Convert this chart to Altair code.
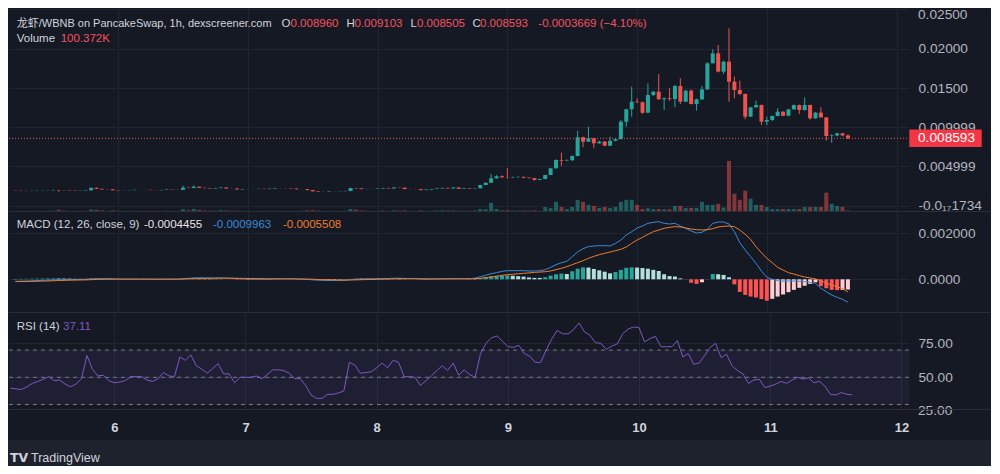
import altair as alt
import pandas as pd

# ------------------------------------------------------------------ texts
pair_title = "龙虾/WBNB on PancakeSwap, 1h, dexscreener.com"
ohlc_letters = ["O", "H", "L", "C"]
ohlc_values = ["0.008960", "0.009103", "0.008505", "0.008593"]
change_label = "-0.0003669 (−4.10%)"
volume_title = "Volume"
volume_label = "100.372K"
macd_title = "MACD (12, 26, close, 9)"
macd_values = ["-0.0004455", "-0.0009963", "-0.0005508"]
rsi_title = "RSI (14)"
rsi_value = "37.11"
last_price = 0.008593
last_price_label = "0.008593"
brand = "TradingView"

# ------------------------------------------------------------------ data (hourly candles)
start_time = "2024-01-05 05:00"
first_open_e4 = 19.2   # prices in units of 1e-4 WBNB

close_e4 = [
    19.0, 18.8, 18.7, 18.9, 19.2, 19.4, 19.6, 19.9, 19.5, 19.6,
    19.2, 18.9, 19.1, 19.6, 22.8, 21.5, 20.8, 20.9, 19.8, 19.5,
    19.6, 19.8, 20.2, 20.2, 20.2, 19.9, 19.8, 20.1, 20.6, 20.3,
    20.2, 23.0, 22.6, 24.2, 22.8, 22.4, 21.9, 22.5, 23.2, 21.9,
    21.9, 20.8, 21.3, 21.3, 21.3, 21.5, 21.2, 21.7, 22.3, 22.3,
    22.2, 21.8, 21.0, 21.0, 19.9, 18.4, 17.8, 17.8, 18.3, 18.3,
    18.5, 18.8, 22.5, 22.1, 21.2, 21.3, 21.4, 21.9, 22.6, 22.0,
    23.2, 22.9, 21.2, 21.2, 21.1, 19.9, 20.6, 21.3, 22.0, 22.7,
    22.0, 23.2, 21.6, 22.4, 21.8, 22.2, 26.4, 29.3, 34.9, 37.5,
    36.2, 36.0, 36.5, 36.8, 35.8, 35.2, 33.0, 34.0, 39.2, 47.7,
    58.3, 57.4, 58.0, 63.4, 87.2, 81.6, 86.0, 79.6, 81.8, 76.5,
    82.9, 85.0, 107.1, 123.0, 132.7, 131.9, 118.6, 141.2, 145.4, 135.7,
    137.0, 136.0, 152.7, 132.7, 146.7, 129.7, 135.7, 148.4, 181.6, 194.3,
    171.0, 183.7, 158.2, 147.6, 142.5, 113.6, 125.5, 128.4, 107.2, 109.3,
    114.4, 119.9, 114.8, 122.9, 128.4, 122.1, 128.4, 111.4, 118.7, 112.7,
    88.9, 89.5, 92.3, 89.6, 85.93,
]
high_e4 = [
    19.4, 19.1, 18.9, 19.0, 19.3, 19.5, 19.7, 20.6, 20.0, 19.8,
    19.7, 19.3, 19.2, 19.8, 23.2, 23.0, 21.7, 21.1, 21.0, 19.9,
    19.8, 19.9, 20.3, 20.4, 20.3, 20.3, 20.0, 20.2, 20.8, 20.7,
    20.4, 25.5, 23.2, 25.8, 24.4, 23.0, 22.6, 22.7, 23.5, 23.3,
    22.1, 22.0, 21.4, 21.5, 21.4, 21.6, 21.6, 21.8, 22.4, 22.5,
    22.4, 22.3, 21.9, 21.2, 21.1, 20.0, 18.5, 18.0, 18.4, 18.5,
    18.6, 18.9, 22.9, 22.8, 22.2, 21.5, 21.5, 22.0, 22.8, 22.7,
    23.4, 23.3, 23.0, 21.4, 21.3, 21.2, 20.7, 21.4, 22.1, 22.9,
    22.8, 23.4, 23.3, 22.6, 22.5, 22.4, 26.6, 29.5, 40.4, 39.0,
    38.5, 47.7, 37.0, 37.5, 37.0, 36.0, 35.5, 34.5, 39.5, 48.0,
    59.2, 67.6, 59.0, 64.0, 95.3, 88.0, 100.8, 86.5, 83.0, 82.0,
    88.0, 85.5, 109.3, 123.5, 151.8, 137.0, 133.0, 156.1, 146.0, 168.0,
    138.3, 149.7, 154.0, 162.5, 148.0, 148.4, 136.5, 152.7, 183.0, 199.5,
    205.0, 185.0, 226.3, 164.6, 159.5, 143.0, 126.0, 134.0, 129.0, 113.6,
    115.0, 124.2, 120.5, 123.5, 129.0, 129.0, 138.2, 129.0, 119.5, 125.5,
    113.0, 91.0, 93.0, 93.0, 91.03,
]
low_e4 = [
    18.9, 18.6, 18.5, 18.6, 18.8, 19.1, 19.3, 19.5, 17.9, 19.3,
    19.1, 18.8, 18.8, 19.0, 19.5, 21.3, 20.6, 20.6, 19.6, 19.3,
    19.4, 19.5, 19.7, 20.0, 20.0, 19.8, 19.6, 19.7, 20.0, 20.2,
    20.0, 20.1, 22.3, 22.5, 22.5, 22.1, 21.7, 21.8, 22.4, 21.7,
    21.6, 20.6, 20.7, 21.1, 21.1, 21.2, 21.0, 21.1, 21.6, 22.1,
    22.0, 21.7, 20.8, 20.8, 19.7, 18.2, 17.6, 17.5, 17.7, 18.1,
    18.2, 18.4, 18.7, 21.9, 21.0, 21.0, 21.2, 21.3, 21.8, 21.9,
    21.9, 22.7, 21.0, 21.0, 20.9, 19.7, 19.8, 20.5, 21.2, 21.9,
    21.8, 21.9, 21.4, 21.5, 21.6, 21.7, 22.0, 26.2, 29.0, 34.6,
    35.5, 34.5, 35.5, 36.0, 35.0, 34.5, 31.9, 32.5, 33.8, 39.0,
    47.5, 50.6, 57.0, 57.0, 63.0, 74.5, 81.5, 73.2, 79.0, 76.0,
    76.0, 82.0, 84.5, 100.8, 113.5, 131.0, 117.0, 118.0, 140.0, 135.0,
    122.1, 134.0, 125.5, 129.7, 132.0, 129.0, 121.2, 134.8, 147.6, 181.6,
    170.0, 168.0, 132.7, 137.0, 141.0, 110.2, 113.0, 125.0, 102.9, 102.9,
    108.0, 114.0, 114.0, 114.0, 122.1, 117.0, 121.2, 110.0, 111.0, 112.0,
    82.9, 80.4, 88.5, 88.5, 85.05,
]
volume_k = [
    70, 60, 50, 60, 70, 60, 80, 90, 150, 90,
    60, 50, 60, 80, 160, 140, 100, 70, 110, 80,
    60, 60, 70, 60, 50, 60, 60, 60, 80, 60,
    60, 180, 110, 200, 140, 100, 90, 80, 120, 100,
    80, 90, 70, 60, 50, 60, 60, 70, 80, 60,
    60, 60, 70, 80, 110, 120, 90, 60, 70, 60,
    60, 80, 200, 150, 100, 80, 60, 70, 100, 70,
    110, 90, 110, 70, 60, 100, 70, 80, 100, 110,
    90, 110, 90, 80, 80, 100, 200, 180, 600, 200,
    110, 120, 90, 90, 100, 90, 110, 80, 330, 250,
    670, 330, 200, 330, 800, 670, 470, 400, 270, 330,
    270, 330, 670, 800, 800, 470, 200, 250, 200, 200,
    180, 180, 400, 400, 270, 270, 270, 670, 470, 470,
    540, 300, 3350, 1200, 800, 1400, 870, 470, 470, 330,
    200, 200, 200, 200, 200, 200, 330, 330, 330, 330,
    1270, 540, 400, 330, 100.372,
]
macd_e4 = [
    -0.9, -0.8, -0.75, -0.65, -0.55, -0.45, -0.35, -0.25, -0.2, -0.15,
    -0.12, -0.12, -0.1, -0.05, 0.2, 0.3, 0.3, 0.28, 0.2, 0.12,
    0.08, 0.06, 0.08, 0.08, 0.08, 0.05, 0.03, 0.04, 0.08, 0.08,
    0.06, 0.3, 0.42, 0.62, 0.65, 0.62, 0.55, 0.55, 0.6, 0.5,
    0.42, 0.28, 0.22, 0.18, 0.14, 0.12, 0.08, 0.1, 0.15, 0.18,
    0.2, 0.18, 0.1, 0.04, -0.06, -0.25, -0.4, -0.5, -0.52, -0.52,
    -0.5, -0.45, -0.15, 0.05, 0.12, 0.18, 0.22, 0.28, 0.35, 0.36,
    0.45, 0.48, 0.38, 0.3, 0.22, 0.1, 0.08, 0.1, 0.15, 0.22,
    0.22, 0.3, 0.22, 0.2, 0.2, 0.5, 1.14, 1.72, 2.45, 2.88,
    3.46, 3.75, 3.75, 3.75, 3.75, 3.61, 3.61, 3.75, 4.19, 5.2,
    6.36, 7.23, 7.81, 9.84, 11.87, 13.32, 14.19, 14.48, 14.62, 14.62,
    14.48, 15.64, 17.09, 19.26, 20.71, 22.3, 23.17, 24.33, 24.77, 25.06,
    24.33, 24.04, 24.33, 23.17, 22.16, 21.0, 20.13, 20.42, 21.72, 24.33,
    24.91, 24.91, 24.04, 20.71, 15.93, 12.74, 9.84, 6.94, 3.61, 0.86,
    -0.01, -0.59, -0.74, -0.74, -0.74, -0.88, -1.03, -1.32, -1.75, -3.93,
    -5.38, -6.83, -7.84, -8.71, -9.963,
]
signal_e4 = [
    -1.0, -0.98, -0.95, -0.9, -0.85, -0.78, -0.7, -0.62, -0.54, -0.46,
    -0.4, -0.34, -0.3, -0.25, -0.16, -0.07, 0.0, 0.05, 0.08, 0.09,
    0.09, 0.08, 0.08, 0.08, 0.08, 0.07, 0.06, 0.06, 0.06, 0.07,
    0.07, 0.12, 0.18, 0.27, 0.35, 0.4, 0.43, 0.46, 0.49, 0.49,
    0.48, 0.44, 0.4, 0.36, 0.31, 0.27, 0.23, 0.2, 0.19, 0.19,
    0.19, 0.19, 0.17, 0.14, 0.1, 0.03, -0.06, -0.15, -0.22, -0.28,
    -0.32, -0.35, -0.31, -0.24, -0.17, -0.1, -0.04, 0.02, 0.09, 0.14,
    0.2, 0.25, 0.27, 0.28, 0.27, 0.24, 0.21, 0.19, 0.18, 0.19,
    0.19, 0.21, 0.21, 0.21, 0.21, 0.27, 0.45, 0.7, 1.0, 1.35,
    1.7, 2.0, 2.2, 2.4, 2.6, 2.8, 3.0, 3.15, 3.3, 3.61,
    4.19, 4.77, 5.49, 6.36, 7.23, 8.1, 9.12, 9.98, 10.71, 11.29,
    11.87, 12.45, 13.03, 14.04, 15.64, 17.09, 18.25, 19.55, 20.71, 21.43,
    22.16, 22.59, 22.88, 22.74, 22.3, 21.87, 21.58, 21.43, 21.58, 22.01,
    22.74, 23.03, 23.17, 22.88, 21.43, 19.55, 17.38, 14.19, 11.58, 9.12,
    7.23, 5.2, 4.04, 2.88, 2.3, 1.58, 1.0, 0.57, 0.13, -0.59,
    -1.75, -2.48, -3.2, -4.07, -5.508,
]
hist_e4 = [
    0.1, 0.18, 0.2, 0.25, 0.3, 0.33, 0.35, 0.37, 0.34, 0.31,
    0.28, 0.22, 0.2, 0.2, 0.36, 0.37, 0.3, 0.23, 0.12, 0.03,
    -0.01, -0.02, 0.0, 0.0, 0.0, -0.02, -0.03, -0.02, 0.02, 0.01,
    -0.01, 0.18, 0.24, 0.35, 0.3, 0.22, 0.12, 0.09, 0.11, 0.01,
    -0.06, -0.16, -0.18, -0.18, -0.17, -0.15, -0.15, -0.1, -0.04, -0.01,
    0.01, -0.01, -0.07, -0.1, -0.16, -0.28, -0.34, -0.35, -0.3, -0.24,
    -0.18, -0.1, 0.16, 0.29, 0.29, 0.28, 0.26, 0.26, 0.26, 0.22,
    0.25, 0.23, 0.11, 0.02, -0.05, -0.14, -0.13, -0.09, -0.03, 0.03,
    0.03, 0.09, 0.01, -0.01, 0.3, 0.3, 0.6, 0.9, 1.3, 1.45,
    1.6, 1.7, 1.55, 1.35, 1.15, 0.8, 0.6, 0.6, 0.9, 1.6,
    2.2, 2.5, 2.3, 3.5, 4.6, 5.2, 5.1, 4.5, 3.9, 3.3,
    2.6, 3.2, 4.1, 5.0, 5.2, 5.1, 4.9, 4.6, 4.1, 3.6,
    2.2, 1.4, 1.2, 0.4, -0.1, -1.5, -2.0, -1.3, 0.1, 2.3,
    2.2, 1.9, 0.9, -2.2, -5.5, -6.8, -7.5, -7.9, -8.6, -9.3,
    -8.5, -7.5, -6.6, -5.6, -4.6, -3.7, -2.8, -2.0, -1.3, -3.0,
    -3.9, -4.6, -4.7, -4.6, -4.455,
]
rsi = [
    42, 41.5, 41, 43, 45.5, 47, 48.5, 50.5, 47.5, 48,
    45, 43, 45, 49, 66, 56, 51, 51.5, 47.5, 46,
    46.5, 47.5, 50.5, 50.5, 50.5, 48, 47, 49, 53.5, 51,
    50.5, 65, 62.5, 66.5, 58.5, 56, 53, 56.5, 60, 52.5,
    52.5, 46, 50, 50, 50, 51, 49, 52, 55.5, 55.5,
    55, 53, 49, 49, 44, 37, 34.5, 34.5, 37.5, 37.5,
    38.5, 40, 61, 59, 53, 53.5, 54, 57, 60.5, 57,
    62.5, 61, 50.5, 50.5, 50, 44, 47.5, 51, 55, 58.5,
    55, 60.5, 51.5, 55.5, 52, 50, 67.5, 75, 79, 80.5,
    76.5, 72.5, 72, 73.5, 67.5, 65.5, 61, 61, 70, 78,
    84.5, 82, 82, 85, 90, 83.5, 81, 75.5, 75, 70.5,
    73, 74.5, 82, 85.5, 87, 86.5, 76, 78.5, 80, 72.5,
    72.5, 72.5, 77, 65, 67.5, 59.5, 60.5, 66, 72, 75,
    64.5, 67, 58.5, 55, 52.5, 45.5, 48, 48.5, 42.5, 43.5,
    45, 47, 45.5, 48, 50, 48.75, 49.5, 46, 47, 43.5,
    37.5, 37, 38.75, 37.5, 37.11,
]

day_ticks = [6, 7, 8, 9, 10, 11, 12]
price_ticks = [0.02, 0.015, 0.01, 0.005, 0.0]
price_tick_labels = ["0.02000", "0.01500", "0.009999", "0.004999", "-0.0₁₇1734"]
price_top_tick = 0.025
price_top_label = "0.02500"
macd_ticks = [0.002, 0.0]
macd_tick_labels = ["0.002000", "0.0000"]
rsi_ticks = [75, 50]
rsi_bottom_tick = 25
rsi_bottom_label = "25.00"
rsi_levels = [70, 50, 30]

n = len(close_e4)
for arr in (high_e4, low_e4, volume_k, macd_e4, signal_e4, hist_e4, rsi):
    assert len(arr) == n, len(arr)

# ------------------------------------------------------------------ styles
FONT = "Liberation Sans, Noto Sans CJK SC, DejaVu Sans, sans-serif"
BG = "#151924"
FRAME = "#1e222d"
GRID = "#212532"
SEP = "#2a2e39"
TXT = "#d1d4dc"
AXT = "#b2b5be"
UP = "#26a69a"
DOWN = "#ef5350"
RED_TXT = "#f7525f"
BOX_RED = "#f23645"
MACD_C = "#3a8ad6"
SIG_C = "#ee7d2f"
H_UP, H_UP_L, H_DN, H_DN_L = "#26a69a", "#b2dfdb", "#ff5252", "#ffcdd2"
RSI_C = "#7e57c2"
AX_FS = 13.7

W = 900
H_PRICE, H_MACD, H_RSI = 204, 101, 97

# ------------------------------------------------------------------ table
E4 = 1e-4
times = pd.date_range(start_time, periods=n, freq="h")
open_e4 = [first_open_e4] + close_e4[:-1]
ccolor = [UP if c >= o else DOWN for o, c in zip(open_e4, close_e4)]
hcolor = []
for i, h in enumerate(hist_e4):
    prev = hist_e4[i - 1] if i > 0 else h
    if h >= 0:
        hcolor.append(H_UP if h > prev else H_UP_L)
    else:
        hcolor.append(H_DN if h < prev else H_DN_L)

df = pd.DataFrame({
    "day": times.day + times.hour / 24.0,
    "open": [v * E4 for v in open_e4],
    "close": [v * E4 for v in close_e4],
    "high": [v * E4 for v in high_e4],
    "low": [v * E4 for v in low_e4],
    "volume": volume_k,
    "macd": [v * E4 for v in macd_e4],
    "signal": [v * E4 for v in signal_e4],
    "hist": [v * E4 for v in hist_e4],
    "rsi": rsi,
    "ccolor": ccolor,
    "hcolor": hcolor,
})
one = pd.DataFrame({"k": [0]})


def label_expr(vals, labels):
    e = ""
    for v, l in zip(vals, labels):
        e += f"datum.value == {v} ? '{l}' : "
    return e + "''"


xscale = alt.Scale(domain=[5.1974, 12.0572], nice=False, zero=False)
pscale = alt.Scale(domain=[-0.000804, 0.025217], nice=False, zero=False)
mscale = alt.Scale(domain=[-0.001465, 0.002926], nice=False, zero=False)
rscale = alt.Scale(domain=[25.96, 97.28], nice=False, zero=False)
vscale = alt.Scale(domain=[0, 13400], nice=False)

X_GRID_AX = alt.Axis(values=day_ticks, grid=True, labels=False, ticks=False,
                     domain=False, title=None)
X_LAB_AX = alt.Axis(values=day_ticks, grid=True, labels=True, ticks=False, tickSize=0,
                    domain=False, title=None, format="d", labelColor=TXT, labelFontSize=13,
                    labelFontWeight="bold", labelBaseline="middle", labelPadding=17,
                    labelFont=FONT, labelFlush=False)


def right_axis(vals, labels=None, fmt=None):
    kw = dict(orient="right", values=vals, grid=True, title=None, labelPadding=9,
              ticks=False, tickSize=0, domain=False, zindex=0)
    if labels is not None:
        kw["labelExpr"] = label_expr(vals, labels)
    if fmt is not None:
        kw["format"] = fmt
    return alt.Axis(**kw)


P_AX = right_axis(price_ticks, price_tick_labels)
M_AX = right_axis(macd_ticks, macd_tick_labels)
R_AX = right_axis(rsi_ticks, fmt=".2f")

x_grid = alt.X("day:Q", scale=xscale, axis=X_GRID_AX)
x_lab = alt.X("day:Q", scale=xscale, axis=X_LAB_AX)


def txt(s, x, y, color, size=11.5, weight="normal", font=FONT):
    return alt.Chart(one).mark_text(
        text=s, align="left", baseline="middle", fontSize=size, font=font,
        fontWeight=weight, color=color,
    ).encode(x=alt.value(x), y=alt.value(y))


def hsep(y):
    return alt.Chart(one).mark_rule(color=SEP, strokeWidth=1).encode(
        x=alt.value(0), x2=alt.value(981), y=alt.value(y))


base = alt.Chart(df)

# ------------------------------------------------------------------ price pane
vol = base.mark_bar(size=4, opacity=0.5).encode(
    x=x_grid, y=alt.Y("volume:Q", scale=vscale, axis=None),
    color=alt.Color("ccolor:N", scale=None))
top_grid = alt.Chart(one).mark_rule(color=GRID, strokeWidth=1).encode(
    x=alt.value(0), x2=alt.value(W), y=alt.YDatum(price_top_tick, scale=pscale, axis=P_AX))
# label of the partly hidden top tick (kept inside the pane top)
top_label = txt(price_top_label, W + 9, 7.2, AXT, size=AX_FS)
wick = base.mark_rule(strokeWidth=1).encode(
    x=x_grid, y=alt.Y("low:Q", scale=pscale, axis=P_AX),
    y2="high:Q", color=alt.Color("ccolor:N", scale=None))
body = base.mark_bar(size=4).encode(
    x=x_grid, y=alt.Y("open:Q", scale=pscale, axis=P_AX), y2="close:Q",
    color=alt.Color("ccolor:N", scale=None))
last_line = alt.Chart(one).mark_rule(color=DOWN, strokeDash=[1, 2], strokeWidth=1).encode(
    x=alt.value(0), x2=alt.value(W), y=alt.YDatum(last_price, scale=pscale, axis=P_AX))
last_box = alt.Chart(one).mark_rule(color=BOX_RED, strokeWidth=17.5).encode(
    x=alt.value(W + 0.3), x2=alt.value(W + 72.7), y=alt.YDatum(last_price, scale=pscale, axis=P_AX))
last_txt = alt.Chart(one).mark_text(
    text=last_price_label, align="left", baseline="middle", fontSize=AX_FS, font=FONT,
    color="#ffffff").encode(x=alt.value(W + 9), y=alt.YDatum(last_price, scale=pscale, axis=P_AX))

hdr = [txt(pair_title, 7.7, 16, TXT, size=11)]
for letter, value, lx, vx in zip(ohlc_letters, ohlc_values,
                                 [272.5, 337.5, 401.5, 463.5], [281.5, 345.5, 408, 471]):
    hdr.append(txt(letter, lx, 16, TXT))
    hdr.append(txt(value, vx, 16, RED_TXT))
hdr.append(txt(change_label, 529.3, 16, RED_TXT))
hdr.append(txt(volume_title, 7.7, 31.3, TXT))
hdr.append(txt(volume_label, 51.7, 31.3, RED_TXT))

price_group = alt.layer(top_grid, wick, body, last_line, last_box, last_txt, top_label,
                        *hdr, hsep(H_PRICE - 0.5))
price_pane = alt.layer(vol, price_group).resolve_scale(y="independent").properties(
    width=W, height=H_PRICE)

# ------------------------------------------------------------------ MACD pane
hist_bars = base.mark_bar(size=4).encode(
    x=x_grid, y=alt.Y("hist:Q", scale=mscale, axis=M_AX),
    color=alt.Color("hcolor:N", scale=None))
macd_line = base.mark_line(color=MACD_C, strokeWidth=1).encode(
    x=x_grid, y=alt.Y("macd:Q", scale=mscale, axis=M_AX))
sig_line = base.mark_line(color=SIG_C, strokeWidth=1).encode(
    x=x_grid, y=alt.Y("signal:Q", scale=mscale, axis=M_AX))
macd_hdr = [
    txt(macd_title, 7.7, 13, TXT),
    txt(macd_values[0], 135, 13, "#ebe3e5"),
    txt(macd_values[1], 204, 13, MACD_C),
    txt(macd_values[2], 274, 13, SIG_C),
]
macd_pane = alt.layer(hist_bars, macd_line, sig_line, *macd_hdr, hsep(H_MACD - 0.5)).properties(
    width=W, height=H_MACD)

# ------------------------------------------------------------------ RSI pane
band = alt.Chart(one).mark_rect(color=RSI_C, opacity=0.1).encode(
    x=alt.value(0), x2=alt.value(W),
    y=alt.YDatum(rsi_levels[0], scale=rscale, axis=R_AX), y2=alt.Y2Datum(rsi_levels[-1]))
levels = alt.Chart(pd.DataFrame({"lvl": rsi_levels})).mark_rule(
    color="#787b86", strokeDash=[4, 4], strokeWidth=1).encode(
    x=alt.value(0), x2=alt.value(W), y=alt.Y("lvl:Q", scale=rscale, axis=R_AX))
rsi_line = base.mark_line(color=RSI_C, strokeWidth=1).encode(
    x=x_lab, y=alt.Y("rsi:Q", scale=rscale, axis=R_AX))
bottom_label = alt.Chart(one).mark_text(
    text=rsi_bottom_label, align="left", baseline="middle", fontSize=AX_FS, font=FONT,
    color=AXT).encode(x=alt.value(W + 9), y=alt.YDatum(rsi_bottom_tick, scale=rscale, axis=R_AX))
rsi_hdr = [txt(rsi_title, 7.7, 13.7, TXT), txt(rsi_value, 54, 13.7, RSI_C)]
strip = alt.Chart(one).mark_rect(color=FRAME).encode(
    x=alt.value(-1), x2=alt.value(982), y=alt.value(127), y2=alt.value(153))
logo = [
    txt("TV", 1, 144.7, TXT, size=12.5, weight=900, font="DejaVu Sans"),
    txt(brand, 22, 144.7, TXT, size=12.5),
]
rsi_pane = alt.layer(band, levels, rsi_line, bottom_label, *rsi_hdr, hsep(H_RSI - 0.5),
                     strip, *logo).properties(width=W, height=H_RSI)

chart = alt.vconcat(price_pane, macd_pane, rsi_pane, spacing=0, bounds="flush").properties(
    background=BG, padding=0,
).configure_view(strokeWidth=0).configure_axis(
    labelFont=FONT, labelColor=AXT, labelFontSize=AX_FS, gridColor=GRID, gridWidth=1,
)

chart.save("out.html", embed_options={"renderer": "svg", "actions": False})
